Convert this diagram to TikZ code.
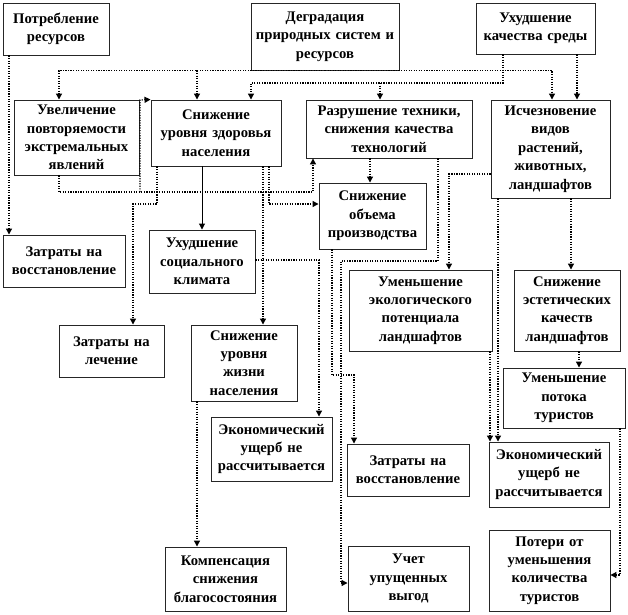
\documentclass[tikz,border=0pt]{standalone}
\usepackage{fontspec}
\setmainfont{Liberation Serif}
\usetikzlibrary{arrows.meta}
\tikzset{
  box/.style={draw=black!85, line width=0.7pt, fill=white, align=center, inner sep=1pt,
    font=\fontsize{11}{13.8}\selectfont\bfseries},
  conn/.style={densely dotted, line width=0.9pt, black},
  sconn/.style={line width=0.7pt, black},
  arr/.style={-{Triangle[length=4.5pt,width=4.5pt]}}
}
\newcommand{\bx}[6]{%
  \node[box, minimum width={(#4-#2)*0.75pt}, minimum height={(#5-#3)*0.75pt},
        text width={(#4-#2-4)*0.75pt}] (#1) at ({(#2+#4)/2},{(#3+#5)/2}) {#6};}
\begin{document}
\begin{tikzpicture}[x=0.75pt,y=-0.75pt]
\useasboundingbox (0,0) rectangle (628,614);
% boxes
\bx{potr}{3}{3}{109}{55}{Потребление\\ресурсов}
\bx{degr}{251}{3}{399}{70}{Деградация\\природных  систем и\\ресурсов}
\bx{uhud}{476}{3}{595}{54}{Ухудшение\\качества среды}
\bx{uvel}{14}{100}{139}{175}{Увеличение\\повторяемости\\экстремальных\\явлений}
\bx{zdor}{151}{100}{281}{166}{Снижение\\уровня здоровья\\населения}
\bx{razr}{306}{100}{472}{158}{Разрушение техники,\\снижения качества\\технологий}
\bx{isch}{491}{100}{610}{198}{Исчезновение\\видов\\растений,\\животных,\\ландшафтов}
\bx{obem}{319}{183}{426}{249}{Снижение\\объема\\производства}
\bx{zatrL}{3}{235}{125}{287}{Затраты на\\восстановление}
\bx{socl}{149}{230}{255}{293}{Ухудшение\\социального\\климата}
\bx{lech}{59}{325}{164}{377}{Затраты на\\лечение}
\bx{zhizn}{191}{325}{297}{401}{Снижение\\уровня\\жизни\\населения}
\bx{ekol}{349}{270}{492}{351}{Уменьшение\\экологического\\потенциала\\ландшафтов}
\bx{estet}{514}{270}{620}{351}{Снижение\\эстетических\\качеств\\ландшафтов}
\bx{potok}{503}{368}{625}{428}{Уменьшение\\потока\\туристов}
\bx{ushM}{211}{417}{332}{481}{Экономический\\ущерб не\\рассчитывается}
\bx{zatrM}{347}{444}{469}{496}{Затраты на\\восстановление}
\bx{ushR}{489}{442}{609}{507}{Экономический\\ущерб не\\рассчитывается}
\bx{komp}{165}{547}{286}{611}{Компенсация\\снижения\\благосостояния}
\bx{uchet}{348}{546}{469}{611}{Учет\\упущенных\\выгод}
\bx{poteri}{489}{530}{610}{611}{Потери от\\уменьшения\\количества\\туристов}
% helper coordinates
\coordinate (busB) at (503,83);
\coordinate (busBr) at (380,83);
\coordinate (uvelB) at (59,192);
\coordinate (uvelU) at (140,192);
\coordinate (uvelT) at (140,100);
\coordinate (lechB) at (157,204);
\coordinate (razrB) at (438,261);
\coordinate (razrL) at (341,261);
\coordinate (razrD) at (341,583);
\coordinate (obemB) at (332,375);
% connectors
\draw[conn,arr] (potr.south -| 9,0) -- (zatrL.north -| 9,0);
\draw[conn,arr] (degr.south) -| (uvel.north -| 59,0);
\draw[conn,arr] (degr.south) -| (isch.north -| 552,0);
\draw[conn,arr] (degr.south -| 197,0) -- (zdor.north -| 197,0);
\draw[conn,arr] (uhud.south -| 503,0) -- (busB) -| (zdor.north -| 251,0);
\draw[conn,arr] (busBr) -- (razr.north -| 380,0);
\draw[conn,arr] (uhud.south -| 577,0) -- (isch.north -| 577,0);
\draw[conn,arr] (uvel.south -| 59,0) -- (uvelB) -| (razr.south -| 313,0);
\draw[conn,arr] (uvelU) -- (uvelT) -- (zdor.north west);
\draw[conn,arr] (zdor.south -| 157,0) -- (lechB) -| (lech.north -| 133,0);
\draw[sconn,arr] (zdor.south -| 202,0) -- (socl.north -| 202,0);
\draw[conn,arr] (zdor.south -| 263,0) -- (zhizn.north -| 263,0);
\draw[conn,arr] (zdor.south -| 269,0) |- (obem.west |- 0,204);
\draw[conn,arr] (socl.east |- 0,260) -| (ushM.north -| 319,0);
\draw[conn,arr] (razr.south -| 370,0) -- (obem.north -| 370,0);
\draw[conn,arr] (razr.south -| 438,0) -- (razrB) -- (razrL) -- (razrD) -- (uchet.west |- 0,583);
\draw[conn,arr] (obem.south -| 332,0) -- (obemB) -| (zatrM.north -| 354,0);
\draw[conn,arr] (isch.west |- 0,174) -| (ekol.north -| 449,0);
\draw[conn,arr] (isch.south -| 571,0) -- (estet.north -| 571,0);
\draw[conn,arr] (estet.south -| 579,0) -- (potok.north -| 579,0);
\draw[conn,arr] (potok.south -| 620,0) |- (poteri.east |- 0,575);
\draw[conn,arr] (ekol.south -| 490,0) -- (ushR.north -| 490,0);
\draw[conn,arr] (isch.south -| 498,0) -- (ushR.north -| 498,0);
\draw[conn,arr] (zhizn.south -| 197,0) -- (komp.north -| 197,0);
\end{tikzpicture}
\end{document}
